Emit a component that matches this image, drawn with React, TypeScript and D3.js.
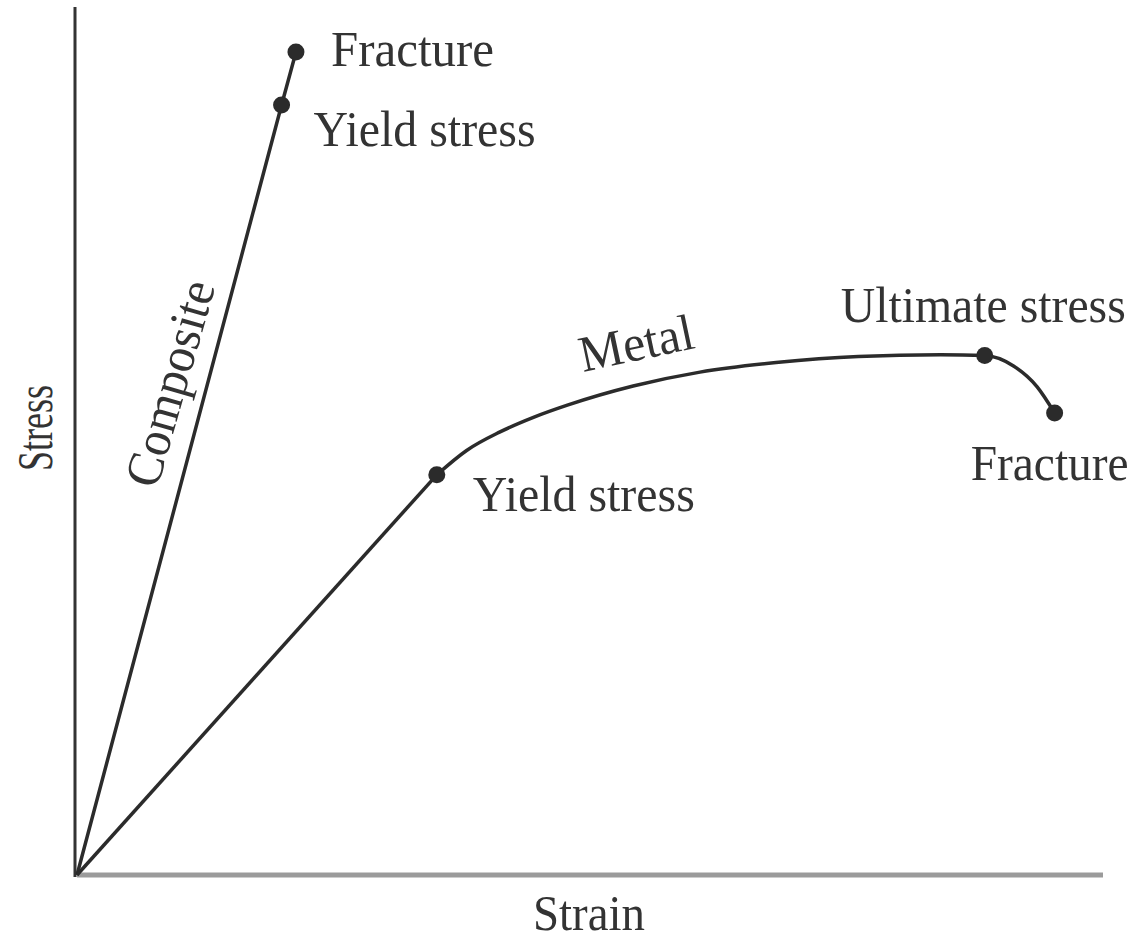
import React from "react";
import * as d3 from "d3";

// Strain / stress in arbitrary units (0-100)
const compositeStrain = [0, 19.9, 21.3];
const compositeStress = [0, 88.5, 94.6];

const metalStrain = [0, 35.0, 37.9, 41.1, 44.4, 47.7, 54.1, 60.6, 68.0, 76.0, 84.0, 88.3, 91.1, 93.4, 95.1];
const metalStress = [0, 46.0, 48.8, 50.9, 52.6, 54.0, 56.2, 57.8, 58.9, 59.6, 59.8, 59.7, 58.5, 56.1, 53.1];

const compositeMarkers = [1, 2]; // yield, fracture indices
const metalYield = 1;
const metalUltimate = 11;
const metalFracture = 14;

const W = 1140;
const H = 942;
const FONT = "'Liberation Serif', 'Times New Roman', serif";
const INK = "#2b2b2b";
const TXT = "#333333";

export default function App() {
  const x = d3.scaleLinear().domain([0, 100]).range([77, 1105]);
  const y = d3.scaleLinear().domain([0, 100]).range([875, 5]);

  const comp = compositeStrain.map((s, i) => [s, compositeStress[i]] as [number, number]);
  const metal = metalStrain.map((s, i) => [s, metalStress[i]] as [number, number]);

  const straight = d3.line<[number, number]>().x((d) => x(d[0])).y((d) => y(d[1]));
  const smooth = d3
    .line<[number, number]>()
    .x((d) => x(d[0]))
    .y((d) => y(d[1]))
    .curve(d3.curveMonotoneX);

  const cY = comp[1], cF = comp[2];
  const mY = metal[metalYield], mU = metal[metalUltimate], mF = metal[metalFracture];
  const metalMarkers = [metalYield, metalUltimate, metalFracture];

  const label = (
    text: string,
    px: number,
    py: number,
    len: number,
    rot = 0,
    anchor: "start" | "middle" | "end" = "start"
  ) => (
    <text
      x={px}
      y={py}
      fontFamily={FONT}
      fontSize={51}
      fill={TXT}
      textAnchor={anchor}
      textLength={len}
      lengthAdjust="spacingAndGlyphs"
      transform={rot ? `rotate(${rot} ${px} ${py})` : undefined}
    >
      {text}
    </text>
  );

  return (
    <svg
      width={W}
      height={H}
      style={{ position: "absolute", left: 0, top: 0, background: "#fff" }}
    >
      {/* axes */}
      <line x1={x(0)} y1={y(0)} x2={1103} y2={y(0)} stroke="#9b9b9b" strokeWidth={5} />
      <line x1={75} y1={7} x2={75} y2={y(0) + 2} stroke="#333" strokeWidth={3} />

      {/* composite */}
      <path d={straight(comp) || ""} fill="none" stroke={INK} strokeWidth={3.5} />
      {compositeMarkers.map((i) => (
        <circle key={"c" + i} cx={x(comp[i][0])} cy={y(comp[i][1])} r={8.5} fill={INK} />
      ))}

      {/* metal: linear elastic part, then smooth plastic part */}
      <path d={straight(metal.slice(0, metalYield + 1)) || ""} fill="none" stroke={INK} strokeWidth={3.5} />
      <path d={smooth(metal.slice(metalYield)) || ""} fill="none" stroke={INK} strokeWidth={3.5} />
      {metalMarkers.map((i) => (
        <circle key={"m" + i} cx={x(metal[i][0])} cy={y(metal[i][1])} r={8.5} fill={INK} />
      ))}

      {/* labels */}
      {label("Fracture", x(cF[0]) + 35, y(cF[1]) + 14, 163)}
      {label("Yield stress", x(cY[0]) + 32, y(cY[1]) + 41, 222)}
      {label("Yield stress", x(mY[0]) + 36, y(mY[1]) + 36, 222)}
      {label("Ultimate stress", x(mU[0]) + 141, y(mU[1]) - 34, 285, 0, "end")}
      {label("Fracture", x(mF[0]) + 74, y(mF[1]) + 67, 158, 0, "end")}
      {label("Metal", 583, 372, 116, -12)}
      {label("Composite", 157, 490, 212, -74)}

      {/* axis titles */}
      {label("Stress", 52, 428, 86, -90, "middle")}
      {label("Strain", 589, 930, 112, 0, "middle")}
    </svg>
  );
}
